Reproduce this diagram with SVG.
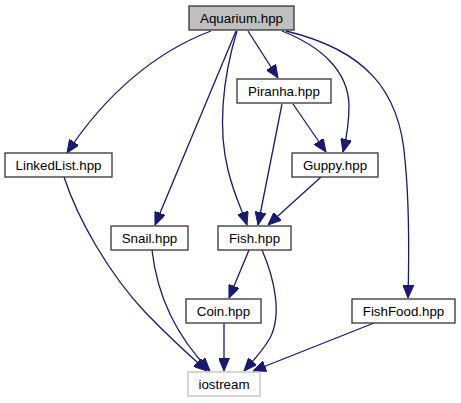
<svg xmlns="http://www.w3.org/2000/svg" width="461" height="403" viewBox="0 0 461 403">
<style>
.n rect{fill:#fff;stroke:#333;stroke-width:1.3}
.n text{font-family:"Liberation Sans",Arial,sans-serif;font-size:13.33px;text-anchor:middle;fill:#000}
#edges path{fill:none;stroke:#191970;stroke-width:1.3;marker-end:url(#ah)}
</style>
<defs>
<marker id="ah" markerUnits="userSpaceOnUse" viewBox="0 0 13 11" markerWidth="13" markerHeight="11" refX="13" refY="5.5" orient="auto">
<path d="M0,0 L13,5.5 L0,11 z" fill="#191970" stroke="#191970" stroke-width="1"/>
</marker>
</defs>
<rect width="461" height="403" fill="#fff"/>
<g id="edges">
<path d="M211,31 C155,52 105,95 67,153"/>
<path d="M236,31 L155,225"/>
<path d="M237,31 C222,80 218,130 228,170 C234,195 242,210 247,225"/>
<path d="M248,31 L278,78"/>
<path d="M282,31 C320,46 348,70 349,105 C349,125 346,140 343,152"/>
<path d="M286,31 C365,50 400,90 405,160 C410,210 409,260 408,298"/>
<path d="M293,104 L326,152"/>
<path d="M282,104 L258,225"/>
<path d="M321,177 L268,225"/>
<path d="M64,177 C78,220 110,275 145,312 C170,338 190,356 207,371"/>
<path d="M152,250 C157,295 175,335 210,371"/>
<path d="M224,323 L224,371"/>
<path d="M262,250 C275,280 282,315 270,338 C262,352 252,362 244,371"/>
<path d="M249,250 L229,298"/>
<path d="M374,323 L253,371"/>
</g>
<g id="aquarium" class="n"><rect x="189" y="6" width="105" height="24" style="fill:#bfbfbf"/><text x="241.5" y="22.7">Aquarium.hpp</text></g>
<g id="piranha" class="n"><rect x="237" y="79" width="94" height="24"/><text x="284" y="96">Piranha.hpp</text></g>
<g id="linkedlist" class="n"><rect x="5" y="153" width="107" height="24"/><text x="58.5" y="170">LinkedList.hpp</text></g>
<g id="guppy" class="n"><rect x="292" y="153" width="86" height="24"/><text x="335" y="170">Guppy.hpp</text></g>
<g id="snail" class="n"><rect x="111" y="226" width="77" height="24"/><text x="149.5" y="243">Snail.hpp</text></g>
<g id="fish" class="n"><rect x="218" y="226" width="73" height="24"/><text x="254.5" y="243">Fish.hpp</text></g>
<g id="coin" class="n"><rect x="186" y="299" width="75" height="24"/><text x="223.5" y="316">Coin.hpp</text></g>
<g id="fishfood" class="n"><rect x="352" y="299" width="103" height="24"/><text x="403.5" y="316">FishFood.hpp</text></g>
<g id="iostream" class="n"><rect x="188" y="372" width="72" height="24" style="stroke:#bfbfbf"/><text x="224" y="389">iostream</text></g>
</svg>
